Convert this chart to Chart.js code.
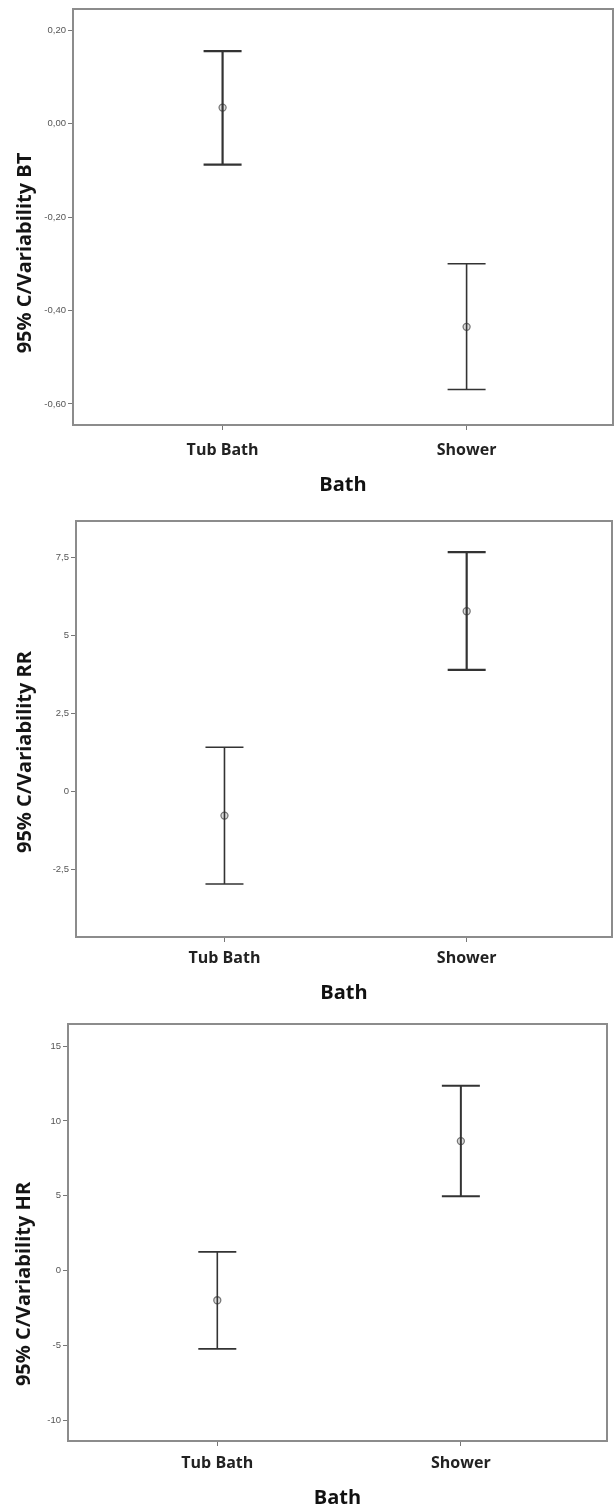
<!DOCTYPE html>
<html>
<head>
<meta charset="utf-8">
<script src="https://cdn.jsdelivr.net/npm/chart.js@4/dist/chart.umd.min.js"></script>
<style>
  html, body { margin: 0; padding: 0; background: #fff; overflow: hidden; }
  body { width: 614px; height: 1505px; position: relative; }
  canvas { position: absolute; left: 0; }
</style>
</head>
<body>
<canvas id="bt"></canvas>
<canvas id="rr"></canvas>
<canvas id="hr"></canvas>
<script>
const categories = ['Tub Bath', 'Shower']

// BT
const btMean = [0.034, -0.435]
const btLower = [-0.088, -0.569]
const btUpper = [0.155, -0.300]
const btTicks = [-0.6, -0.4, -0.2, 0, 0.2]
const btTickLabels = ['-0,60', '-0,40', '-0,20', '0,00', '0,20']

// RR
const rrMean = [-0.77, 5.78]
const rrLower = [-2.96, 3.90]
const rrUpper = [1.42, 7.67]
const rrTicks = [-2.5, 0, 2.5, 5, 7.5]
const rrTickLabels = ['-2,5', '0', '2,5', '5', '7,5']

// HR
const hrMean = [-1.98, 8.65]
const hrLower = [-5.23, 4.97]
const hrUpper = [1.25, 12.35]
const hrTicks = [-10, -5, 0, 5, 10, 15]
const hrTickLabels = ['-10', '-5', '0', '5', '10', '15']

const panels = [
  { id: 'bt', title: '95% C/Variability BT', mean: btMean, lower: btLower, upper: btUpper,
    ticks: btTicks, tickLabels: btTickLabels, yMin: -0.645, yMax: 0.245,
    top: 0, height: 500, area: { left: 73, right: 613, top: 9, bottom: 425 },
    tickPad: 11, titlePad: 3, yTitle: { x: 25, y: 253 }, widths: [2.2, 1.6] },
  { id: 'rr', title: '95% C/Variability RR', mean: rrMean, lower: rrLower, upper: rrUpper,
    ticks: rrTicks, tickLabels: rrTickLabels, yMin: -4.66, yMax: 8.67,
    top: 500, height: 505, area: { left: 76, right: 612, top: 21, bottom: 437 },
    tickPad: 7, titlePad: 0, yTitle: { x: 25, y: 252 }, widths: [1.6, 2.2] },
  { id: 'hr', title: '95% C/Variability HR', mean: hrMean, lower: hrLower, upper: hrUpper,
    ticks: hrTicks, tickLabels: hrTickLabels, yMin: -11.38, yMax: 16.47,
    top: 1000, height: 510, area: { left: 68, right: 607, top: 24, bottom: 441 },
    tickPad: 8, titlePad: 0, yTitle: { x: 24, y: 284 }, widths: [1.6, 2.0] }
]

// box round the plot area
const framePlugin = {
  id: 'frame',
  beforeDatasetsDraw(chart) {
    const { ctx, chartArea: a } = chart
    ctx.save()
    ctx.strokeStyle = '#8c8c8c'
    ctx.lineWidth = 2
    ctx.strokeRect(a.left, a.top, a.right - a.left, a.bottom - a.top)
    ctx.restore()
  }
}

// rotated y title, placed like the original (not centred on the axis)
const yTitlePlugin = {
  id: 'yTitle',
  afterDraw(chart, args, opts) {
    const ctx = chart.ctx
    ctx.save()
    ctx.translate(opts.x, opts.y)
    ctx.rotate(-Math.PI / 2)
    ctx.font = 'bold 20px "Open Sans"'
    ctx.fillStyle = '#151515'
    ctx.textAlign = 'center'
    ctx.textBaseline = 'middle'
    ctx.fillText(opts.text, 0, 0)
    ctx.restore()
  }
}

panels.forEach(p => {
  const canvas = document.getElementById(p.id)
  canvas.width = 614
  canvas.height = p.height
  canvas.style.top = p.top + 'px'

  const datasets = []
  categories.forEach((cat, i) => {
    // whisker with caps
    datasets.push({
      data: [{ x: i + 1, y: p.lower[i] }, { x: i + 1, y: p.upper[i] }],
      showLine: true,
      borderColor: '#333',
      borderWidth: p.widths[i],
      pointStyle: 'line',
      pointRadius: 19,
      pointBorderWidth: p.widths[i],
      pointBorderColor: '#333'
    })
  })
  datasets.push({
    data: p.mean.map((m, i) => ({ x: i + 1, y: m })),
    showLine: false,
    pointStyle: 'circle',
    pointRadius: 3.5,
    pointBorderWidth: 1.3,
    pointBorderColor: '#777',
    pointBackgroundColor: 'rgba(190,190,190,0.5)'
  })

  new Chart(canvas, {
    type: 'scatter',
    data: { datasets },
    plugins: [framePlugin, yTitlePlugin],
    options: {
      responsive: false,
      animation: false,
      layout: {
        autoPadding: false,
        padding: { left: 0, top: p.area.top, right: 614 - p.area.right, bottom: 0 }
      },
      plugins: {
        legend: { display: false },
        tooltip: { enabled: false },
        yTitle: { text: p.title, x: p.yTitle.x, y: p.yTitle.y }
      },
      scales: {
        x: {
          type: 'linear',
          min: 0.387,
          max: 2.6,
          afterFit: scale => {
            scale.height = p.height - p.area.bottom
            scale.paddingLeft = 0
            scale.paddingRight = 0
          },
          afterBuildTicks: scale => { scale.ticks = categories.map((c, i) => ({ value: i + 1 })) },
          border: { display: false },
          grid: { drawOnChartArea: false, drawTicks: true, tickLength: 5, color: '#777' },
          ticks: {
            padding: p.tickPad,
            color: '#222',
            font: { family: 'Open Sans', size: 16, weight: 'bold' },
            callback: v => categories[v - 1]
          },
          title: {
            display: true,
            text: 'Bath',
            color: '#111',
            padding: { top: 0, bottom: p.titlePad },
            font: { family: 'Open Sans', size: 20, weight: 'bold' }
          }
        },
        y: {
          min: p.yMin,
          max: p.yMax,
          afterFit: scale => {
            scale.width = p.area.left
            scale.paddingTop = 0
            scale.paddingBottom = 0
          },
          afterBuildTicks: scale => { scale.ticks = p.ticks.map(v => ({ value: v })) },
          border: { display: false },
          grid: { drawOnChartArea: false, drawTicks: true, tickLength: 5, color: '#777' },
          ticks: {
            padding: 2,
            color: '#555',
            font: { family: 'Liberation Sans', size: 9.5 },
            callback: v => p.tickLabels[p.ticks.indexOf(v)]
          }
        }
      }
    }
  })
})
</script>
</body>
</html>
